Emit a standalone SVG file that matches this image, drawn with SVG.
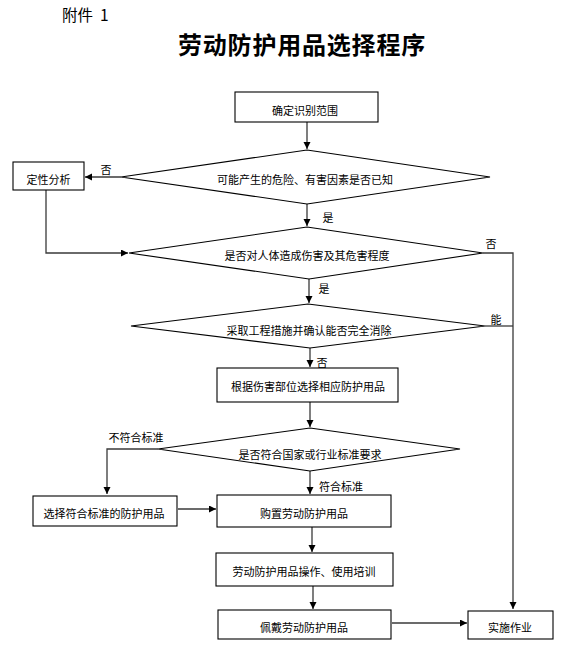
<svg xmlns="http://www.w3.org/2000/svg" width="566" height="649" viewBox="0 0 566 649">
<defs>
<marker id="ah" markerUnits="userSpaceOnUse" markerWidth="8" markerHeight="8" refX="7" refY="3.5" orient="auto">
<path d="M0,0 L7,3.5 L0,7 Z" fill="#000"/>
</marker>
<style>
.bx{fill:#fff;stroke:#000;stroke-width:1.1}
.t{font-family:"Noto Sans CJK SC","Liberation Sans",sans-serif;font-size:11px;fill:#000;text-anchor:middle;dominant-baseline:central}
.lb{font-family:"Noto Sans CJK SC","Liberation Sans",sans-serif;font-size:11px;fill:#000;text-anchor:middle;dominant-baseline:central}
.c{fill:none;stroke:#3a3a3a;stroke-width:1.3}
.a{marker-end:url(#ah)}
</style>
</defs>
<rect width="566" height="649" fill="#fff"/>
<text x="62" y="21" style="font-family:'Noto Sans CJK SC','Liberation Serif',serif;font-size:15.5px">附件 <tspan x="100">1</tspan></text>
<text x="302" y="43" style="font-family:'Noto Sans CJK SC',sans-serif;font-size:24px;font-weight:bold;letter-spacing:0.8px;text-anchor:middle;dominant-baseline:central">劳动防护用品选择程序</text>

<g id="connectors">
<path class="c a" d="M307,122 L307,149"/>
<path class="c a" d="M121,177 L85,177"/>
<path class="c a" d="M46,190 L46,253 L128,253"/>
<path class="c a" d="M307,204 L307,226"/>
<path class="c a" d="M483,253 L513,253 L513,609"/>
<path class="c a" d="M309,279 L309,303"/>
<path class="c" d="M485,326 L513,326"/>
<path class="c a" d="M310,348 L310,367"/>
<path class="c a" d="M310,402 L310,427"/>
<path class="c a" d="M158,449 L107,449 L107,494"/>
<path class="c a" d="M310,471 L310,494"/>
<path class="c a" d="M178,509 L216,509"/>
<path class="c a" d="M312,527 L312,552"/>
<path class="c a" d="M313,586 L313,609"/>
<path class="c a" d="M392,623 L467,623"/>
<text class="lb" x="106" y="169">否</text>
<text class="lb" x="328" y="217">是</text>
<text class="lb" x="491" y="243">否</text>
<text class="lb" x="324" y="288">是</text>
<text class="lb" x="496" y="319">能</text>
<text class="lb" x="322" y="362">否</text>
<text class="lb" x="136" y="437">不符合标准</text>
<text class="lb" x="341" y="486">符合标准</text>
</g>

<g id="n1"><rect class="bx" x="235" y="92" width="143" height="30"/><text class="t" x="305" y="110">确定识别范围</text></g>
<g id="d1"><path class="bx" d="M307,150 L490,177 L307,204 L121,177 Z"/><text class="t" x="305" y="179">可能产生的危险、有害因素是否已知</text></g>
<g id="n2"><rect class="bx" x="13" y="162" width="71" height="28"/><text class="t" x="48.5" y="179">定性分析</text></g>
<g id="d2"><path class="bx" d="M307,227 L483,253 L309,279 L129,253 Z"/><text class="t" x="307" y="255">是否对人体造成伤害及其危害程度</text></g>
<g id="d3"><path class="bx" d="M308,304 L485,326 L310,348 L131,326 Z"/><text class="t" x="309" y="330">采取工程措施并确认能否完全消除</text></g>
<g id="n3"><rect class="bx" x="217" y="368" width="181" height="34"/><text class="t" x="308" y="386">根据伤害部位选择相应防护用品</text></g>
<g id="d4"><path class="bx" d="M310,428 L460,449 L310,471 L158,449 Z"/><text class="t" x="310" y="454">是否符合国家或行业标准要求</text></g>
<g id="n4"><rect class="bx" x="33" y="496" width="144" height="30"/><text class="t" x="104" y="513">选择符合标准的防护用品</text></g>
<g id="n5"><rect class="bx" x="217" y="495" width="174" height="32"/><text class="t" x="304" y="513">购置劳动防护用品</text></g>
<g id="n6"><rect class="bx" x="216" y="553" width="177" height="33"/><text class="t" x="304" y="571">劳动防护用品操作、使用培训</text></g>
<g id="n7"><rect class="bx" x="218" y="610" width="173" height="29"/><text class="t" x="304" y="627">佩戴劳动防护用品</text></g>
<g id="n8"><rect class="bx" x="468" y="611" width="85" height="28"/><text class="t" x="510" y="627">实施作业</text></g>
</svg>
